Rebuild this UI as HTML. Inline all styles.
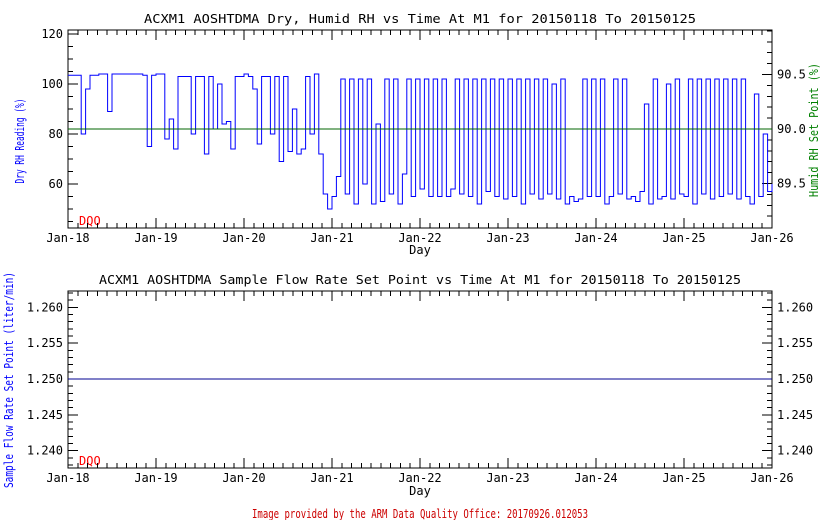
<!DOCTYPE html>
<html><head><meta charset="utf-8"><style>
body{margin:0;background:#fff}
svg{display:block}
text{font-family:"DejaVu Sans Mono","Liberation Mono",monospace;font-size:12px}
</style></head><body>
<svg id="svg" width="840" height="520" viewBox="0 0 840 520" xmlns="http://www.w3.org/2000/svg">
<rect width="840" height="520" fill="#fff"/>
<text x="420" y="23" text-anchor="middle" font-size="13.7" textLength="552" lengthAdjust="spacingAndGlyphs">ACXM1 AOSHTDMA Dry, Humid RH vs Time At M1 for 20150118 To 20150125</text>
<text x="420" y="284" text-anchor="middle" font-size="13.7" textLength="642" lengthAdjust="spacingAndGlyphs">ACXM1 AOSHTDMA Sample Flow Rate Set Point vs Time At M1 for 20150118 To 20150125</text>
<text transform="translate(24,141) rotate(-90)" text-anchor="middle" fill="#0000ff" textLength="85" lengthAdjust="spacingAndGlyphs">Dry RH Reading (%)</text>
<text transform="translate(818,130) rotate(-90)" text-anchor="middle" fill="#008000" textLength="134" lengthAdjust="spacingAndGlyphs">Humid RH Set Point (%)</text>
<text transform="translate(13,380) rotate(-90)" text-anchor="middle" fill="#0000ff" textLength="216" lengthAdjust="spacingAndGlyphs">Sample Flow Rate Set Point (liter/min)</text>
<text x="420" y="254" text-anchor="middle">Day</text>
<text x="420" y="495" text-anchor="middle">Day</text>
<text x="79" y="225" fill="#ff0000" font-size="10">DQO</text>
<text x="79" y="465" fill="#ff0000" font-size="10">DQO</text>
<text x="420" y="518" text-anchor="middle" fill="#cc0000" font-size="10" textLength="336" lengthAdjust="spacingAndGlyphs">Image provided by the ARM Data Quality Office: 20170926.012053</text>
<g id="g"></g>
</svg>
<script>
const dayLabels=["Jan-18","Jan-19","Jan-20","Jan-21","Jan-22","Jan-23","Jan-24","Jan-25","Jan-26"];
const leftTicks=[60,80,100,120];
const rightTicks=[89.5,90.0,90.5];
const flowTicks=[1.240,1.245,1.250,1.255,1.260];
const humidSetPoint=[90.0];
const flowSetPoint=[1.250];
const dryStep=0.05;
const dryRH=[103.5,103.5,103.5,80,98,103.5,103.5,104,104,89,104,104,104,104,104,104,104,103.5,75,103.5,
104,104,78,86,74,103,103,103,80,103,103,72,103,82,100,84,85,74,103,103,
104,103,98,76,103,103,80,103,69,103,73,90,72,74,103,80,104,72,56,50,
55,63,102,56,102,52,102,60,102,52,84,53,102,56,102,52,64,102,55,102,
58,102,55,102,55,102,55,58,102,56,102,55,102,52,102,57,102,55,102,54,
102,55,102,52,102,56,102,54,102,56,100,54,102,52,55,53,54,102,55,102,
55,102,52,55,102,56,102,54,55,53,57,92,52,102,54,55,100,54,102,56,
55,102,52,102,56,102,54,102,55,102,56,102,54,102,55,52,96,55,80,57,60];

const NS="http://www.w3.org/2000/svg";
const g=document.getElementById('g');
const X0=68,X1=772;
const xs=d=>X0+(X1-X0)*d/8;
const topP={t:30,b:228};
const yL=v=>34+(120-v)*2.5;
const yR=v=>129-(v-90)*109;
const botP={t:291,b:468};
const yF=v=>379-(v-1.25)*7170;
function el(tag,attrs,name){const e=document.createElementNS(NS,tag);for(const k in attrs)e.setAttribute(k,attrs[k]);


g.appendChild(e);return e;}
function line(x1,y1,x2,y2,c,name){return el('line',{x1,y1,x2,y2,stroke:c||'#000','stroke-width':1,'shape-rendering':'crispEdges'},name);}
function txt(x,y,s,anchor,name){const t=el('text',{x,y,'text-anchor':anchor},name);t.textContent=s;return t;}

function frame(p,prefix){
  el('rect',{x:X0,y:p.t,width:X1-X0,height:p.b-p.t,fill:'none',stroke:'#000','stroke-width':1,'shape-rendering':'crispEdges'},prefix+'-plot-frame');
  for(let i=0;i<=72;i++){const x=xs(i/9);const major=i%9===0;const L=major?10:5;
    line(x,p.b,x,p.b-L,'#000',prefix+'-x-tick');line(x,p.t,x,p.t+L,'#000',prefix+'-x-tick-top');}
  dayLabels.forEach((s,i)=>txt(xs(i),p.b+14,s,'middle',prefix+'-x-tick-label'));
}
frame(topP,'top');frame(botP,'bottom');

for(let v=45;v<=120;v+=5){const y=yL(v);const L=v%20===0?10:5;line(X0,y,X0+L,y,'#000','top-left-y-tick');}
leftTicks.forEach(v=>txt(X0-5,yL(v)+4,String(v),'end','top-left-y-tick-label'));
for(let k=892;k<=909;k++){const v=k/10;const y=yR(v);if(y<topP.t||y>topP.b)continue;const L=(k%5===0)?10:5;line(X1,y,X1-L,y,'#000','top-right-y-tick');}
rightTicks.forEach(v=>txt(X1+5,yR(v)+4,v.toFixed(1),'start','top-right-y-tick-label'));
for(let k=1238;k<=1262;k++){const v=k/1000;const y=yF(v);if(y<botP.t||y>botP.b)continue;const L=(k%5===0)?10:5;
  line(X0,y,X0+L,y,'#000','bottom-left-y-tick');line(X1,y,X1-L,y,'#000','bottom-right-y-tick');}
flowTicks.forEach(v=>{txt(X0-5,yF(v)+4,v.toFixed(3),'end','bottom-left-y-tick-label');txt(X1+5,yF(v)+4,v.toFixed(3),'start','bottom-right-y-tick-label');});

let d='';
dryRH.forEach((v,i)=>{const x=xs(i*dryStep),y=yL(v);
  if(i===0)d+='M'+x+' '+y;else d+=' L'+x+' '+yL(dryRH[i-1])+' L'+x+' '+y;});
el('path',{d,fill:'none',stroke:'#0000ff','stroke-width':1},'dry-rh-series');
humidSetPoint.forEach(v=>line(X0,yR(v),X1,yR(v),'#006400','humid-rh-set-point-line'));
flowSetPoint.forEach(v=>line(X0,yF(v),X1,yF(v),'#000090','flow-rate-set-point-line'));
</script>
</body></html>
